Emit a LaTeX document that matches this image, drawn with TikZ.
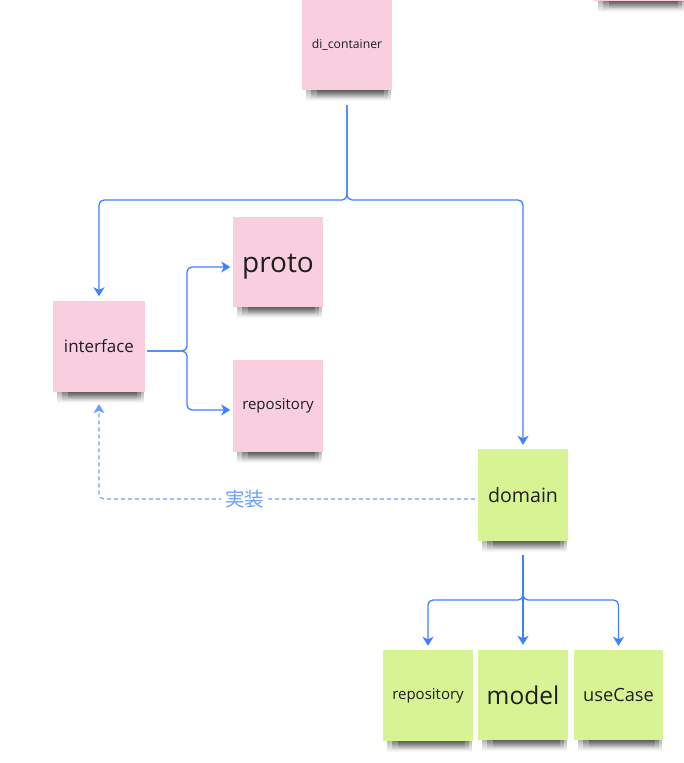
\documentclass[tikz,border=0pt]{standalone}
\usepackage{fontspec}
\setmainfont{Open Sans}
\newfontfamily\cjk{Noto Sans CJK JP}
\usetikzlibrary{arrows.meta,backgrounds,fadings}
\definecolor{notepink}{RGB}{249,207,224}
\definecolor{notegreen}{RGB}{215,243,148}
\definecolor{linkblue}{RGB}{62,128,255}
\definecolor{dashblue}{RGB}{105,158,252}
\definecolor{textdark}{RGB}{30,30,30}
\tikzset{
  sticky/.style={rectangle, minimum width=90pt, minimum height=90pt, inner sep=0pt, text=textdark},
  pinknote/.style={sticky, fill=notepink},
  greennote/.style={sticky, fill=notegreen},
  conn/.style={draw=linkblue, line width=1.3pt, rounded corners=5pt,
    -{Stealth[length=9pt,width=11pt,inset=2.5pt]}},
  dconn/.style={draw=dashblue, line width=1.2pt, dash pattern=on 4pt off 3pt, rounded corners=5pt,
    -{Stealth[length=9pt,width=11pt,inset=2.5pt]}},
  fs/.style={font=\fontsize{#1}{#1}\selectfont},
  shadowpart/.style={fill=black, opacity=0.3, path fading=south}
}
\newcommand\noteshadow[1]{%
  \fill[shadowpart] ([xshift=4pt,yshift=1pt]#1.south west) rectangle ([xshift=-1pt,yshift=-11pt]#1.south east);
  \fill[shadowpart] ([xshift=9pt,yshift=1pt]#1.south west) rectangle ([xshift=-4pt,yshift=-9pt]#1.south east);
  \fill[shadowpart] ([xshift=15pt,yshift=1pt]#1.south west) rectangle ([xshift=-8pt,yshift=-7pt]#1.south east);
}
\begin{document}
\begin{tikzpicture}[x=1pt,y=-1pt]
\begin{scope}[on background layer]
\fill[white] (0,0) rectangle (684,763);
\end{scope}
\useasboundingbox (0,0) rectangle (684,763);
% notes
\node[pinknote, minimum width=92pt] (topright) at (640,-44) {};
\node[pinknote, fs=12.2] (dic) at (347,45) {di\_container};
\node[pinknote, minimum width=92pt, minimum height=91pt, fs=17] (intf) at (99,346.5) {interface};
\node[pinknote, fs=28, text height=27pt, text depth=6.6pt] (proto) at (278,262) {proto};
\node[pinknote, minimum height=92pt, fs=15] (repo1) at (278,406) {repository};
\node[greennote, minimum height=92pt, fs=19.6] (domain) at (523,495) {domain};
\node[greennote, minimum height=91pt, fs=15] (repo2) at (428,695.5) {repository};
\node[greennote, fs=24.5] (model) at (523,695) {model};
\node[greennote, minimum width=89pt, fs=18.2] (usecase) at (618.5,695) {useCase};
\begin{scope}[on background layer]
\foreach \n in {topright,dic,intf,proto,repo1,domain,repo2,model,usecase}{\noteshadow{\n}}
\end{scope}
% junction coordinates
\coordinate (j1) at (347,200);
\coordinate (j2) at (187,351);
\coordinate (j3) at (523,600);
% di_container branches
\draw[conn] ([yshift=-15pt]dic.south) -- (j1) -| ([yshift=4.5pt]intf.north);
\draw[conn] ([yshift=-15pt]dic.south) -- (j1) -| ([yshift=4pt]domain.north);
% interface branches
\draw[conn] ([xshift=2pt,yshift=-4.5pt]intf.east) -- (j2) |- ([xshift=-2.5pt,yshift=-5pt]proto.west);
\draw[conn] ([xshift=2pt,yshift=-4.5pt]intf.east) -- (j2) |- ([xshift=-2.5pt,yshift=-4pt]repo1.west);
% domain branches
\draw[conn] ([yshift=-14pt]domain.south) -- (j3) -| ([yshift=4pt]repo2.north);
\draw[conn] ([yshift=-14pt]domain.south) -- ([yshift=5pt]model.north);
\draw[conn] ([yshift=-14pt]domain.south) -- (j3) -| ([yshift=4pt]usecase.north);
% dashed implementation link
\draw[dconn] ([xshift=-3pt,yshift=-4pt]domain.west) -| ([yshift=-12pt]intf.south)
  node[pos=0.306, fill=white, inner xsep=4pt, inner ysep=1pt, text=dashblue, font=\cjk\fontsize{19.5}{19.5}\selectfont] (impl) {実装};
\end{tikzpicture}
\end{document}
